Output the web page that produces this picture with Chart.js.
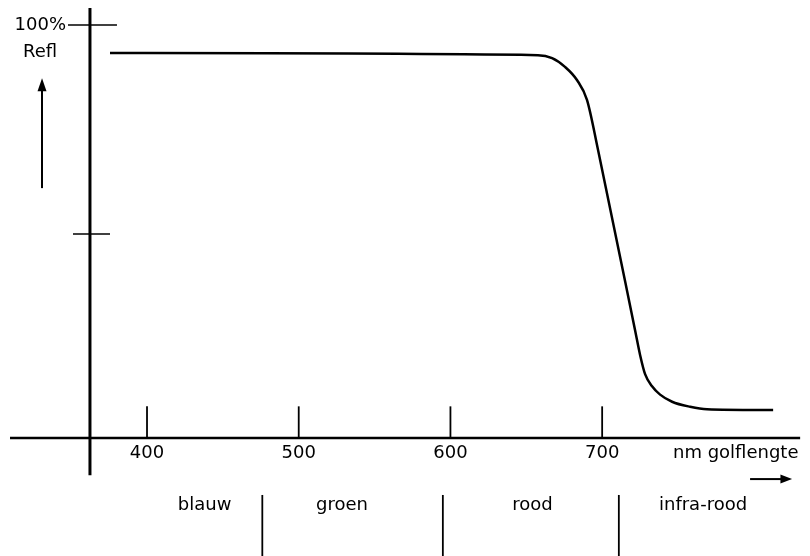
<!DOCTYPE html>
<html>
<head>
<meta charset="utf-8">
<script src="https://cdn.jsdelivr.net/npm/chart.js@4.4.1/dist/chart.umd.min.js"></script>
<style>
  body { margin: 0; background: #fff; }
  #wrap { width: 810px; height: 556px; position: relative; }
</style>
</head>
<body>
<div id="wrap"><canvas id="grafico"></canvas></div>
<script>
// golflengte (nm) en reflectie (%)
const golflengte = [375.6, 657.7, 667.0, 675.5, 683.5, 690.0, 697.3, 721.7, 725.0, 728.3, 732.9, 738.2, 746.1, 758.0, 769.1, 812.7];
const reflectie  = [93.3, 92.8, 92.1, 90.0, 86.8, 82.1, 70.1, 27.0, 21.1, 16.5, 13.6, 11.6, 9.9, 8.7, 8.1, 7.9];

const xTicks = [400, 500, 600, 700];
const yTicks = [100, 50];
const yTickLabels = ["100%", ""];
const grenzen = [476, 595, 711];
const banden = ["blauw", "groen", "rood", "infra-rood"];
const bandMidden = [438, 528.5, 654, 766.5];

const FONT = "18px 'DejaVu Sans'";

const tekenPlugin = {
    id: "assen",
    afterDraw: function(chart) {
        const ctx = chart.ctx;
        const sx = chart.scales.x;
        const sy = chart.scales.y;
        const px = v => sx.getPixelForValue(v);
        const py = v => sy.getPixelForValue(v);

        ctx.save();
        ctx.strokeStyle = "#000";
        ctx.fillStyle = "#000";
        ctx.lineCap = "butt";

        function lijn(x1, y1, x2, y2, w) {
            ctx.lineWidth = w;
            ctx.beginPath();
            ctx.moveTo(x1, y1);
            ctx.lineTo(x2, y2);
            ctx.stroke();
        }

        // assen
        lijn(px(362.4), py(104.1), px(362.4), py(-7.7), 3);
        lijn(px(309.7), py(1.2), px(830.5), py(1.2), 2.5);

        // y-streepjes
        lijn(px(347.9), py(yTicks[0]), px(380.2), py(yTicks[0]), 1.5);
        lijn(px(351.2), py(yTicks[1]), px(375.6), py(yTicks[1]), 1.5);

        // x-streepjes
        xTicks.forEach(function(t) {
            lijn(px(t), py(1.2), px(t), py(8.8), 1.8);
        });

        // grenzen tussen kleurbanden
        grenzen.forEach(function(g) {
            lijn(px(g), py(-12.4), px(g), py(-27), 1.8);
        });

        ctx.font = FONT;
        ctx.textBaseline = "middle";

        ctx.textAlign = "right";
        ctx.fillText(yTickLabels[0], px(346.6), py(100));
        ctx.textAlign = "center";
        ctx.fillText("Refl", px(329.5), py(93.5));

        xTicks.forEach(function(t) {
            ctx.fillText(String(t), px(t), py(-2.4));
        });

        banden.forEach(function(b, i) {
            ctx.fillText(b, px(bandMidden[i]), py(-14.8));
        });

        ctx.textAlign = "left";
        ctx.fillText("nm golflengte", px(746.7), py(-2.4));

        // pijl omhoog
        const ax = px(330.8);
        lijn(ax, py(61), ax, py(85), 2);
        ctx.beginPath();
        ctx.moveTo(ax, py(87.3));
        ctx.lineTo(ax - 4.5, py(84.2));
        ctx.lineTo(ax + 4.5, py(84.2));
        ctx.closePath();
        ctx.fill();

        // pijl naar rechts
        const ay = py(-8.6);
        lijn(px(797.5), ay, px(818), ay, 2);
        ctx.beginPath();
        ctx.moveTo(px(825.2), ay);
        ctx.lineTo(px(817.5), ay - 4.5);
        ctx.lineTo(px(817.5), ay + 4.5);
        ctx.closePath();
        ctx.fill();

        ctx.restore();
    }
};

const punten = golflengte.map(function(g, i) {
    return { x: g, y: reflectie[i] };
});

new Chart(document.getElementById("grafico"), {
    type: "line",
    plugins: [tekenPlugin],
    data: {
        datasets: [{
            data: punten,
            borderColor: "#000",
            borderWidth: 2.5,
            pointRadius: 0,
            fill: false,
            cubicInterpolationMode: "monotone"
        }]
    },
    options: {
        responsive: true,
        maintainAspectRatio: false,
        animation: false,
        layout: { padding: 0 },
        scales: {
            x: { type: "linear", min: 303.1, max: 837.0, display: false },
            y: { min: -27.0, max: 106.0, display: false }
        },
        plugins: {
            legend: { display: false },
            tooltip: { enabled: false }
        }
    }
});
</script>
</body>
</html>
